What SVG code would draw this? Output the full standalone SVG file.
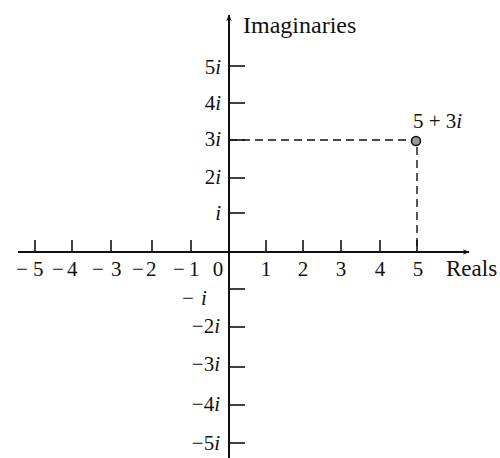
<svg xmlns="http://www.w3.org/2000/svg" width="500" height="458" viewBox="0 0 500 458">
<defs>
<style>
text{font-family:"Liberation Serif","Times New Roman",serif;font-size:21px;fill:#111}
.r{text-anchor:end}
.c{text-anchor:middle}
.ax{stroke:#111;stroke-width:2;fill:none}
.tk{stroke:#111;stroke-width:1.6}
.ds{stroke:#111;stroke-width:1.4;stroke-dasharray:8,5;fill:none}
.it{font-style:italic}
</style>
<marker id="ah" viewBox="0 0 10 10" refX="9" refY="5" markerWidth="11" markerHeight="7" orient="auto" markerUnits="userSpaceOnUse">
<path d="M0,1 L10,5 L0,9 L3,5 Z" fill="#111"/>
</marker>
</defs>
<g id="connectors">
<line class="ax" x1="18" y1="252" x2="469" y2="252" marker-end="url(#ah)"/>
<line class="ax" x1="229" y1="458" x2="229" y2="15" marker-end="url(#ah)"/>
<path class="ds" d="M229,140 H417 V252"/>
</g>
<g id="xticks">
<line class="tk" x1="35" y1="252" x2="35" y2="240"/>
<line class="tk" x1="72" y1="252" x2="72" y2="240"/>
<line class="tk" x1="111" y1="252" x2="111" y2="240"/>
<line class="tk" x1="152" y1="252" x2="152" y2="240"/>
<line class="tk" x1="191" y1="252" x2="191" y2="240"/>
<line class="tk" x1="266" y1="252" x2="266" y2="240"/>
<line class="tk" x1="303" y1="252" x2="303" y2="240"/>
<line class="tk" x1="341" y1="252" x2="341" y2="240"/>
<line class="tk" x1="380" y1="252" x2="380" y2="240"/>
<line class="tk" x1="417" y1="252" x2="417" y2="240"/>
</g>
<g id="yticks">
<line class="tk" x1="229" y1="66" x2="245" y2="66"/>
<line class="tk" x1="229" y1="103" x2="245" y2="103"/>
<line class="tk" x1="229" y1="140" x2="245" y2="140"/>
<line class="tk" x1="229" y1="178" x2="245" y2="178"/>
<line class="tk" x1="229" y1="213" x2="245" y2="213"/>
<line class="tk" x1="229" y1="289" x2="245" y2="289"/>
<line class="tk" x1="229" y1="327" x2="245" y2="327"/>
<line class="tk" x1="229" y1="367" x2="245" y2="367"/>
<line class="tk" x1="229" y1="405" x2="245" y2="405"/>
<line class="tk" x1="229" y1="443" x2="245" y2="443"/>
</g>
<g id="xlabels">
<text x="16" y="276">−<tspan x="33">5</tspan></text>
<text x="52" y="276">−<tspan x="67">4</tspan></text>
<text x="92" y="276">−<tspan x="111">3</tspan></text>
<text x="132" y="276">−<tspan x="146">2</tspan></text>
<text x="173" y="276">−<tspan x="189">1</tspan></text>
<text x="218" y="276" class="c">0</text>
<text x="266" y="276" class="c">1</text>
<text x="303" y="276" class="c">2</text>
<text x="341" y="276" class="c">3</text>
<text x="380" y="276" class="c">4</text>
<text x="418" y="276" class="c">5</text>
</g>
<g id="ylabels">
<text x="221" y="74" class="r">5<tspan class="it">i</tspan></text>
<text x="221" y="110" class="r">4<tspan class="it">i</tspan></text>
<text x="221" y="146" class="r">3<tspan class="it">i</tspan></text>
<text x="221" y="184" class="r">2<tspan class="it">i</tspan></text>
<text x="221" y="220" class="r it">i</text>
<text x="182" y="305">−<tspan x="201" class="it">i</tspan></text>
<text x="220" y="333" class="r">−2<tspan class="it">i</tspan></text>
<text x="220" y="371" class="r">−3<tspan class="it">i</tspan></text>
<text x="220" y="411" class="r">−4<tspan class="it">i</tspan></text>
<text x="220" y="450" class="r">−5<tspan class="it">i</tspan></text>
</g>
<g id="axis-titles">
<text x="243" y="33" style="font-size:24px">Imaginaries</text>
<text x="446" y="276" style="font-size:23px">Reals</text>
</g>
<g id="point">
<circle cx="416" cy="141" r="4.5" fill="#999" stroke="#111" stroke-width="1.5"/>
<text x="413" y="128">5 + 3<tspan class="it">i</tspan></text>
</g>
</svg>
